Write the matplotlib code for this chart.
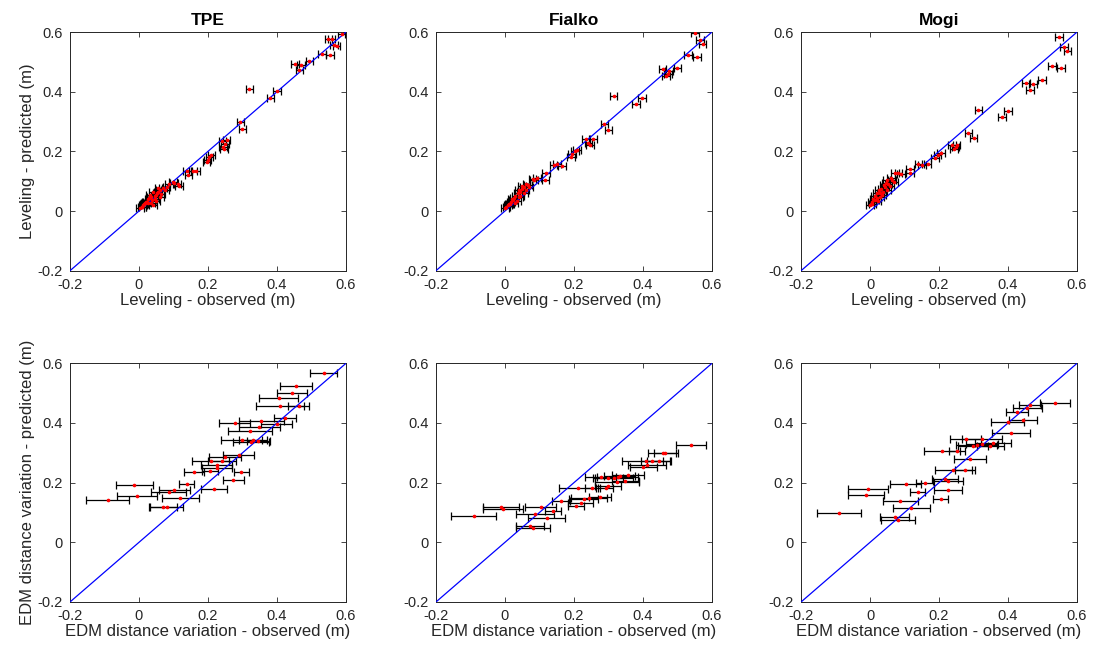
import numpy as np
import matplotlib
matplotlib.use('Agg')
import matplotlib.pyplot as plt

plt.rcParams['font.family'] = ['Liberation Sans', 'DejaVu Sans']
plt.rcParams['axes.unicode_minus'] = False

# ---- data ----
models = ['TPE', 'Fialko', 'Mogi']
ticks = [-0.2, 0, 0.2, 0.4, 0.6]
tick_labels = ['-0.2', '0', '0.2', '0.4', '0.6']

lev_err = 0.011  # leveling error bars look uniform

tpe_lev_obs = [0.003, 0.008, 0.012, 0.017, 0.022, 0.027, 0.032, 0.034, 0.037, 0.041, 0.041, 0.046,
               0.049, 0.051, 0.056, 0.061, 0.061, 0.070, 0.080, 0.020, 0.030, 0.045, 0.055, 0.065,
               0.075, 0.010, 0.015, 0.025, 0.035, 0.050,
               0.087, 0.102, 0.112, 0.116, 0.098, 0.140, 0.143, 0.157, 0.165,
               0.196, 0.199, 0.204, 0.210, 0.242, 0.254, 0.247, 0.244, 0.250,
               0.294, 0.300, 0.320, 0.381, 0.400,
               0.452, 0.469, 0.465, 0.494, 0.530, 0.554, 0.549, 0.558, 0.566, 0.573, 0.587]
tpe_lev_pred = [0.009, 0.014, 0.020, 0.026, 0.031, 0.042, 0.053, 0.026, 0.037, 0.064, 0.020, 0.042,
                0.033, 0.059, 0.076, 0.048, 0.070, 0.076, 0.081, 0.030, 0.045, 0.050, 0.065, 0.058,
                0.070, 0.015, 0.022, 0.028, 0.048, 0.055,
                0.092, 0.094, 0.092, 0.084, 0.096, 0.134, 0.122, 0.134, 0.133,
                0.164, 0.171, 0.181, 0.189, 0.234, 0.237, 0.209, 0.215, 0.225,
                0.300, 0.276, 0.410, 0.379, 0.404,
                0.494, 0.491, 0.474, 0.502, 0.528, 0.524, 0.576, 0.578, 0.558, 0.553, 0.595]

fia_lev_obs = [0.000, 0.004, 0.008, 0.012, 0.017, 0.020, 0.025, 0.030, 0.037, 0.040, 0.045, 0.050,
               0.056, 0.060, 0.066, 0.070, 0.035, 0.028, 0.045, 0.055, 0.015, 0.050, 0.062, 0.040,
               0.024,
               0.080, 0.093, 0.085, 0.117, 0.119, 0.141, 0.151, 0.165, 0.191, 0.195, 0.203, 0.209,
               0.235, 0.247, 0.256, 0.242, 0.288, 0.300, 0.315, 0.380, 0.397,
               0.457, 0.467, 0.473, 0.476, 0.500, 0.530, 0.556, 0.550, 0.566, 0.573]
fia_lev_pred = [0.010, 0.015, 0.019, 0.025, 0.031, 0.040, 0.045, 0.050, 0.059, 0.070, 0.064, 0.075,
                0.081, 0.072, 0.087, 0.080, 0.035, 0.028, 0.050, 0.060, 0.022, 0.085, 0.090, 0.048,
                0.036,
                0.107, 0.112, 0.105, 0.103, 0.126, 0.154, 0.157, 0.152, 0.181, 0.190, 0.202, 0.204,
                0.240, 0.223, 0.243, 0.228, 0.291, 0.273, 0.385, 0.358, 0.379,
                0.475, 0.453, 0.458, 0.470, 0.481, 0.524, 0.516, 0.597, 0.572, 0.561]

mog_lev_obs = [0.000, 0.007, 0.014, 0.019, 0.029, 0.039, 0.043, 0.053, 0.063, 0.010, 0.020, 0.025,
               0.033, 0.045, 0.050, 0.058, 0.030, 0.015, 0.005, 0.040, 0.048, 0.060, 0.035, 0.022,
               0.070,
               0.072, 0.082, 0.090, 0.116, 0.116, 0.140, 0.150, 0.167, 0.188, 0.196, 0.205,
               0.237, 0.244, 0.251, 0.248, 0.285, 0.300, 0.314, 0.382, 0.399,
               0.452, 0.472, 0.464, 0.498, 0.528, 0.553, 0.548, 0.563, 0.572]
mog_lev_pred = [0.020, 0.025, 0.036, 0.059, 0.048, 0.064, 0.081, 0.092, 0.103, 0.040, 0.045, 0.070,
                0.075, 0.095, 0.070, 0.085, 0.060, 0.050, 0.030, 0.088, 0.105, 0.110, 0.055, 0.032,
                0.098,
                0.126, 0.128, 0.125, 0.126, 0.140, 0.157, 0.154, 0.157, 0.179, 0.187, 0.195,
                0.221, 0.207, 0.221, 0.213, 0.260, 0.246, 0.338, 0.315, 0.334,
                0.429, 0.425, 0.407, 0.438, 0.486, 0.480, 0.583, 0.550, 0.535]

tpe_edm_obs = [-0.091, -0.013, -0.006, 0.070, 0.080, 0.086, 0.102, 0.120, 0.138, 0.159, 0.206, 0.217,
               0.208, 0.226, 0.226, 0.240, 0.250, 0.289, 0.273, 0.296, 0.298, 0.325, 0.331, 0.346,
               0.322, 0.349, 0.354, 0.277, 0.399, 0.423, 0.409, 0.463, 0.405, 0.443, 0.455, 0.535]
tpe_edm_pred = [0.142, 0.193, 0.154, 0.117, 0.120, 0.168, 0.175, 0.147, 0.195, 0.236, 0.239, 0.179,
                0.272, 0.260, 0.249, 0.272, 0.286, 0.294, 0.209, 0.237, 0.343, 0.336, 0.344, 0.340,
                0.374, 0.387, 0.405, 0.399, 0.398, 0.417, 0.457, 0.456, 0.483, 0.499, 0.524, 0.566]
tpe_edm_err = [0.063, 0.053, 0.057, 0.041, 0.049, 0.051, 0.045, 0.053, 0.022, 0.028, 0.022, 0.037,
               0.053, 0.045, 0.044, 0.041, 0.047, 0.045, 0.030, 0.022, 0.059, 0.052, 0.040, 0.034,
               0.063, 0.060, 0.065, 0.046, 0.045, 0.032, 0.069, 0.030, 0.056, 0.044, 0.045, 0.040]

fia_edm_obs = [-0.091, -0.012, -0.005, 0.072, 0.081, 0.088, 0.104, 0.121, 0.139, 0.162, 0.207, 0.211,
               0.253, 0.220, 0.228, 0.244, 0.276, 0.292, 0.298, 0.278, 0.298, 0.315, 0.327, 0.333,
               0.349, 0.325, 0.356, 0.401, 0.411, 0.409, 0.426, 0.446, 0.459, 0.465, 0.539]
fia_edm_pred = [0.089, 0.120, 0.113, 0.055, 0.047, 0.094, 0.117, 0.080, 0.105, 0.140, 0.122, 0.181,
                0.181, 0.133, 0.144, 0.148, 0.153, 0.182, 0.189, 0.219, 0.216, 0.215, 0.219, 0.221,
                0.207, 0.202, 0.227, 0.254, 0.258, 0.273, 0.271, 0.273, 0.301, 0.299, 0.326]
fia_edm_err = [0.064, 0.052, 0.058, 0.041, 0.050, 0.055, 0.045, 0.054, 0.022, 0.027, 0.023, 0.053,
               0.022, 0.036, 0.042, 0.053, 0.031, 0.022, 0.038, 0.045, 0.044, 0.055, 0.060, 0.045,
               0.039, 0.063, 0.047, 0.039, 0.055, 0.069, 0.033, 0.034, 0.043, 0.032, 0.043]

mog_edm_obs = [-0.091, -0.006, -0.012, 0.071, 0.081, 0.088, 0.103, 0.120, 0.138, 0.160, 0.205, 0.209,
               0.226, 0.217, 0.226, 0.241, 0.252, 0.275, 0.289, 0.277, 0.298, 0.309, 0.324, 0.324,
               0.348, 0.356, 0.409, 0.399, 0.443, 0.425, 0.456, 0.464, 0.536]
mog_edm_pred = [0.098, 0.179, 0.159, 0.086, 0.075, 0.138, 0.195, 0.114, 0.167, 0.200, 0.144, 0.305,
                0.174, 0.212, 0.207, 0.241, 0.307, 0.243, 0.279, 0.346, 0.324, 0.327, 0.347, 0.331,
                0.324, 0.333, 0.367, 0.404, 0.409, 0.438, 0.451, 0.459, 0.468]
mog_edm_err = [0.064, 0.058, 0.053, 0.043, 0.049, 0.051, 0.045, 0.054, 0.022, 0.026, 0.022, 0.053,
               0.041, 0.038, 0.043, 0.054, 0.024, 0.030, 0.047, 0.044, 0.044, 0.060, 0.058, 0.046,
               0.039, 0.053, 0.055, 0.047, 0.040, 0.032, 0.043, 0.031, 0.043]

lev_obs = [tpe_lev_obs, fia_lev_obs, mog_lev_obs]
lev_pred = [tpe_lev_pred, fia_lev_pred, mog_lev_pred]
edm_obs = [tpe_edm_obs, fia_edm_obs, mog_edm_obs]
edm_pred = [tpe_edm_pred, fia_edm_pred, mog_edm_pred]
edm_err = [tpe_edm_err, fia_edm_err, mog_edm_err]

# ---- figure ----
fig = plt.figure(figsize=(11.09, 6.59), dpi=100)
lefts = [0.0631, 0.3931, 0.7223]
width = 0.2489
bottoms = [0.5892, 0.0865]
height = 0.3622
gray = '#262626'


def style(ax):
    ax.set_xlim(-0.2, 0.6)
    ax.set_ylim(-0.2, 0.6)
    ax.set_xticks(ticks)
    ax.set_xticklabels(tick_labels)
    ax.set_yticks(ticks)
    ax.set_yticklabels(tick_labels)
    ax.tick_params(direction='in', top=True, right=True, length=3.5, width=0.6,
                   colors=gray, labelsize=10.5)
    ax.tick_params(axis='x', pad=5)
    ax.tick_params(axis='y', pad=5)
    for s in ax.spines.values():
        s.set_color(gray)
        s.set_linewidth(0.7)


def panel(ax, x, y, xerr, cap):
    ax.errorbar(x, y, xerr=xerr, fmt='none', ecolor='k', elinewidth=0.9,
                capsize=cap, capthick=0.9, zorder=2)
    ax.plot([-0.2, 0.6], [-0.2, 0.6], color='b', lw=0.9, zorder=3)
    ax.plot(x, y, '.', color='r', ms=3.2, zorder=4)
    style(ax)


for i, name in enumerate(models):
    ax = fig.add_axes([lefts[i], bottoms[0], width, height])
    panel(ax, lev_obs[i], lev_pred[i], lev_err, 2.8)
    ax.set_title(name, fontsize=12.5, fontweight='bold', pad=5)
    ax.set_xlabel('Leveling - observed (m)', fontsize=12, color=gray, labelpad=1)
    if i == 0:
        ax.set_ylabel('Leveling - predicted (m)', fontsize=12, color=gray, labelpad=2)

    ax = fig.add_axes([lefts[i], bottoms[1], width, height])
    panel(ax, edm_obs[i], edm_pred[i], edm_err[i], 3.2)
    ax.set_xlabel('EDM distance variation - observed (m)', fontsize=12, color=gray, labelpad=1)
    if i == 0:
        ax.set_ylabel('EDM distance variation - predicted (m)', fontsize=12, color=gray, labelpad=2)

fig.savefig('out.png', dpi=100)
